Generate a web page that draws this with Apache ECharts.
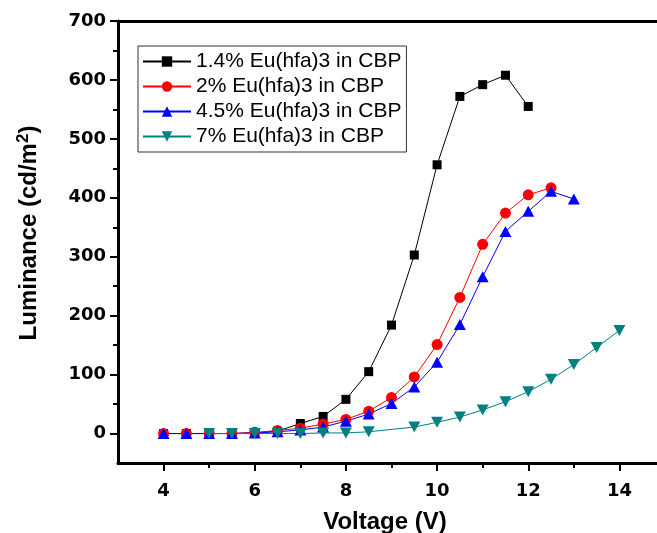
<!DOCTYPE html>
<html>
<head>
<meta charset="utf-8">
<script src="https://cdn.jsdelivr.net/npm/echarts@6.0.0/dist/echarts.min.js"></script>
<style>
  html, body { margin: 0; padding: 0; background: #fff; }
  #chart { width: 657px; height: 533px; }
</style>
</head>
<body>
<div id="chart"></div>
<script>
// Luminance vs. voltage for four Eu(hfa)3 doping levels in CBP
const seriesNames = [
  '1.4% Eu(hfa)3 in CBP',
  '2% Eu(hfa)3 in CBP',
  '4.5% Eu(hfa)3 in CBP',
  '7% Eu(hfa)3 in CBP'
];

const voltage14 = [4, 4.5, 5, 5.5, 6, 6.5, 7, 7.5, 8, 8.5, 9, 9.5, 10, 10.5, 11, 11.5, 12];
const luminance14 = [0, 0, 0, 0, 1, 4, 17, 29, 58, 105, 184, 303, 456, 572, 592, 608, 555];

const voltage2 = [4, 4.5, 5, 5.5, 6, 6.5, 7, 7.5, 8, 8.5, 9, 9.5, 10, 10.5, 11, 11.5, 12, 12.5];
const luminance2 = [0, 0, 0, 0, 2, 5, 9, 16, 24, 38, 61, 96, 151, 231, 321, 374, 405, 417];

const voltage45 = [4, 4.5, 5, 5.5, 6, 6.5, 7, 7.5, 8, 8.5, 9, 9.5, 10, 10.5, 11, 11.5, 12, 12.5, 13];
const luminance45 = [0, 0, 0, 0, 1, 3, 6, 11, 21, 33, 51, 79, 121, 185, 266, 343, 377, 411, 398];

const voltage7 = [5, 5.5, 6, 6.5, 7, 7.5, 8, 8.5, 9.5, 10, 10.5, 11, 11.5, 12, 12.5, 13, 13.5, 14];
const luminance7 = [0, 0, 0, 0, 0, 1, 1, 3, 11, 19, 28, 40, 54, 71, 92, 117, 146, 175];

// Axis ticks
const xMajorTicks = [4, 6, 8, 10, 12, 14];
const xMinorTicks = [5, 7, 9, 11, 13];
const yMajorTicks = [0, 100, 200, 300, 400, 500, 600, 700];
const yMinorTicks = [50, 150, 250, 350, 450, 550, 650];

const FONT = "'Liberation Sans', Arial, sans-serif";
const TICK_FONT = "'DejaVu Sans', Verdana, sans-serif";
const pairs = (xs, ys) => xs.map((x, i) => [x, ys[i]]);

const chart = echarts.init(document.getElementById('chart'), null, { renderer: 'canvas' });

const xRange = { min: 3, max: 15 };
const yRange = { min: -50, max: 700 };
const black = '#000';

const option = {
  animation: false,
  backgroundColor: '#ffffff',
  grid: { left: 118, top: 21, width: 547, height: 442, containLabel: false, outerBoundsMode: 'none' },
  legend: {
    orient: 'vertical',
    left: 138,
    top: 46,
    padding: [5, 5, 5, 4],
    borderColor: '#333',
    borderWidth: 1,
    itemWidth: 48,
    itemHeight: 13,
    itemGap: 4,
    textStyle: { fontFamily: FONT, fontSize: 21, color: black, lineHeight: 21 },
    data: seriesNames
  },
  xAxis: [
    {
      type: 'value', ...xRange, position: 'bottom',
      axisLine: { show: true, onZero: false, lineStyle: { color: black, width: 3 } },
      axisTick: { show: true, inside: false, length: 8, lineStyle: { color: black, width: 2 }, customValues: xMajorTicks },
      axisLabel: { show: true, margin: 19, fontFamily: TICK_FONT, fontSize: 18, fontWeight: 'bold', color: black, customValues: xMajorTicks },
      splitLine: { show: false },
      name: 'Voltage (V)',
      nameLocation: 'middle',
      nameGap: 47,
      nameTextStyle: { fontFamily: FONT, fontSize: 24, fontWeight: 'bold', color: black, padding: [0, 13, 0, 0] }
    },
    {
      // minor ticks along the bottom axis
      type: 'value', ...xRange, position: 'bottom',
      axisLine: { show: false, onZero: false },
      axisTick: { show: true, inside: false, length: 5, lineStyle: { color: black, width: 2 }, customValues: xMinorTicks },
      axisLabel: { show: false },
      splitLine: { show: false }
    },
    {
      // top frame line
      type: 'value', ...xRange, position: 'top',
      axisLine: { show: true, onZero: false, lineStyle: { color: black, width: 3 } },
      axisTick: { show: false },
      axisLabel: { show: false },
      splitLine: { show: false }
    }
  ],
  yAxis: [
    {
      type: 'value', ...yRange, position: 'left',
      axisLine: { show: true, onZero: false, lineStyle: { color: black, width: 3 } },
      axisTick: { show: true, inside: false, length: 8, lineStyle: { color: black, width: 2 }, customValues: yMajorTicks },
      axisLabel: { show: true, margin: 12, fontFamily: TICK_FONT, fontSize: 18, fontWeight: 'bold', color: black, customValues: yMajorTicks },
      splitLine: { show: false },
      name: 'Luminance (cd/m{s|2})',
      nameLocation: 'middle',
      nameGap: 74,
      nameTextStyle: {
        fontFamily: FONT, fontSize: 24, fontWeight: 'bold', color: black,
        padding: [0, 0, 0, 18],
        rich: {
          s: { fontFamily: FONT, fontSize: 17, fontWeight: 'bold', color: black, verticalAlign: 'top', padding: [0, 0, 12, 0] }
        }
      }
    },
    {
      // minor ticks along the left axis
      type: 'value', ...yRange, position: 'left',
      axisLine: { show: false, onZero: false },
      axisTick: { show: true, inside: false, length: 5, lineStyle: { color: black, width: 2 }, customValues: yMinorTicks },
      axisLabel: { show: false },
      splitLine: { show: false }
    }
  ],
  series: [
    {
      name: seriesNames[0], type: 'line', data: pairs(voltage14, luminance14),
      symbol: 'rect', symbolSize: 9,
      lineStyle: { color: '#000000', width: 1 },
      itemStyle: { color: '#000000' }
    },
    {
      name: seriesNames[1], type: 'line', data: pairs(voltage2, luminance2),
      symbol: 'circle', symbolSize: 11,
      lineStyle: { color: '#ff0000', width: 1 },
      itemStyle: { color: '#ff0000' }
    },
    {
      name: seriesNames[2], type: 'line', data: pairs(voltage45, luminance45),
      symbol: 'triangle', symbolSize: [12, 11],
      lineStyle: { color: '#0000ff', width: 1 },
      itemStyle: { color: '#0000ff' }
    },
    {
      name: seriesNames[3], type: 'line', data: pairs(voltage7, luminance7),
      symbol: 'triangle', symbolRotate: 180, symbolSize: [12, 11],
      lineStyle: { color: '#008080', width: 1 },
      itemStyle: { color: '#008080' }
    }
  ]
};

chart.setOption(option);
</script>
</body>
</html>
